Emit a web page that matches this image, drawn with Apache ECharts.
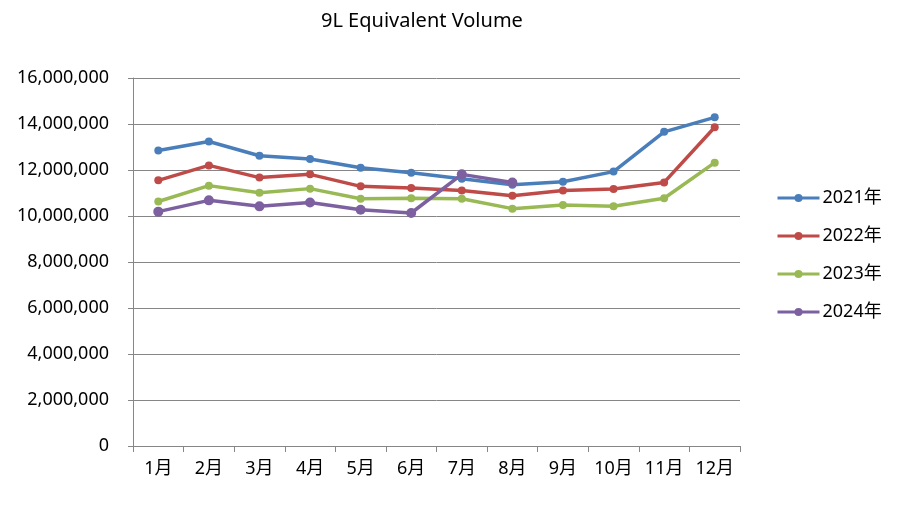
<!DOCTYPE html>
<html>
<head>
<meta charset="utf-8">
<script src="https://cdn.jsdelivr.net/npm/echarts@6/dist/echarts.min.js"></script>
<style>html,body{margin:0;padding:0;background:#fff}#c{width:902px;height:508px}</style>
</head>
<body>
<div id="c"></div>
<script>
const categories = ['1月','2月','3月','4月','5月','6月','7月','8月','9月','10月','11月','12月'];
const seriesNames = ['2021年','2022年','2023年','2024年'];
const v2021 = [12850000,13240000,12620000,12480000,12100000,11880000,11620000,11360000,11490000,11930000,13660000,14290000];
const v2022 = [11550000,12200000,11670000,11810000,11290000,11220000,11110000,10880000,11110000,11170000,11460000,13860000];
const v2023 = [10630000,11320000,11010000,11190000,10750000,10770000,10750000,10320000,10480000,10420000,10770000,12320000];
const v2024 = [10190000,10680000,10420000,10590000,10270000,10130000,11810000,11460000];
const yTicks = [0,2000000,4000000,6000000,8000000,10000000,12000000,14000000,16000000];

const colors = ['#4A7EBB','#BE4B48','#98B954','#7D60A0'];
const font = "'Noto Sans', 'Noto Sans CJK SC', sans-serif";
const chart = echarts.init(document.getElementById('c'));
const dataSets = [v2021, v2022, v2023, v2024];
chart.setOption({
  animation: false,
  color: colors,
  title: {
    text: '9L Equivalent Volume',
    left: 316, top: 6,
    textStyle: {fontFamily: font, fontSize: 20, fontWeight: 'normal', color: '#000'}
  },
  legend: {
    orient: 'vertical', left: 771, top: 184, itemGap: 20,
    itemWidth: 42, itemHeight: 10,
    lineStyle: {width: 3},
    textStyle: {fontFamily: font, fontSize: 18, color: '#000', padding: [0,0,0,-2]},
    data: seriesNames
  },
  grid: {left: 133, right: 162, top: 78, bottom: 62},
  xAxis: {
    type: 'category', data: categories, boundaryGap: true,
    axisLine: {lineStyle: {color: '#868686', width: 1}},
    axisTick: {show: true, length: 6, alignWithLabel: false, lineStyle: {color: '#868686'}},
    axisLabel: {fontFamily: font, fontSize: 18, color: '#000', margin: 14, interval: 0}
  },
  yAxis: {
    type: 'value', min: yTicks[0], max: yTicks[yTicks.length-1], interval: 2000000,
    axisLine: {show: true, lineStyle: {color: '#868686', width: 1}},
    axisTick: {show: true, length: 5, lineStyle: {color: '#868686'}},
    splitLine: {lineStyle: {color: '#868686', width: 1}},
    axisLabel: {fontFamily: font, fontSize: 18, color: '#000', margin: 24,
      formatter: v => v.toLocaleString('en-US')}
  },
  series: seriesNames.map((n, i) => ({
    name: n, type: 'line', data: dataSets[i],
    symbol: 'circle', symbolSize: i === 3 ? 10 : 8,
    lineStyle: {width: 3.5}, itemStyle: {color: colors[i]}
  }))
});
</script>
</body>
</html>
